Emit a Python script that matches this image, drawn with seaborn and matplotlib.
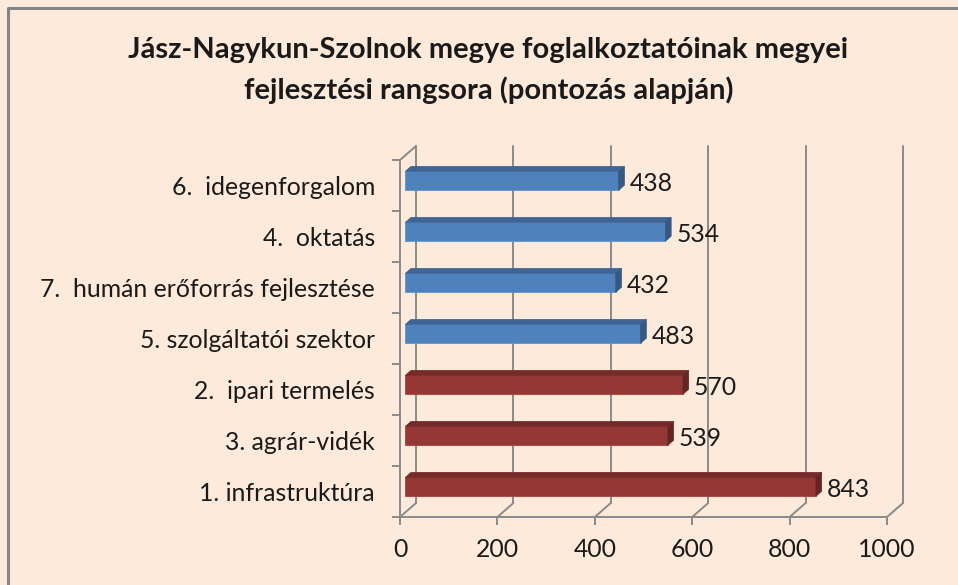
import matplotlib
matplotlib.use("Agg")
import matplotlib.pyplot as plt
import matplotlib.colors as mcolors
import seaborn as sns
import numpy as np
from matplotlib.patches import Polygon
from matplotlib.lines import Line2D

# Adatok (felülről lefelé)
kategoriak = ["6.  idegenforgalom", "4.  oktatás", "7.  humán erőforrás fejlesztése",
              "5. szolgáltatói szektor", "2.  ipari termelés", "3. agrár-vidék",
              "1. infrastruktúra"]
pontok = [438, 534, 432, 483, 570, 539, 843]
csoport = ["kek", "kek", "kek", "kek", "piros", "piros", "piros"]
x_tickek = [0, 200, 400, 600, 800, 1000]

szinek = {"kek": "#4F81BD", "piros": "#953735"}
HATTER = "#FDEADA"
RACS = "#8A8A8A"
BETU = 17.8

sns.set_theme(style="white")
plt.rcParams['font.family'] = ['Lato', 'DejaVu Sans']

W, H = 958, 585
fig = plt.figure(figsize=(W / 100, H / 100), dpi=100)
fig.patch.set_facecolor(HATTER)

# az elülső sík: x 400..887 px, y 160..517 px (felülről)
ax = fig.add_axes([400 / W, (H - 517) / H, 487 / W, 357 / H])
ax.set_facecolor("none")

sns.barplot(x=pontok, y=kategoriak, hue=csoport, palette=szinek, orient="h",
            width=0.37, dodge=False, saturation=1, legend=False, ax=ax)

ax.set_xlim(0, 1000)
ax.set_ylim(len(kategoriak) - 0.5, -0.5)

# mélység (px -> adategység)
px_x = 487 / 1000
px_y = 357 / len(kategoriak)
DX = 16 / px_x
DY = -14 / px_y
f = 1 / 3      # a hasáb elülső lapja
g = 0.36       # a hasáb mélysége

y0, y1 = ax.get_ylim()
# hátsó fal rácsvonalai + padló átlói
for v in x_tickek:
    ax.add_line(Line2D([v + DX, v + DX], [y0 + DY, y1 + DY], color=RACS, lw=1.4, clip_on=False))
    ax.add_line(Line2D([v, v + DX], [y0, y0 + DY], color=RACS, lw=1.4, clip_on=False))
# bal fal felső átló
ax.add_line(Line2D([0, DX], [y1, y1 + DY], color=RACS, lw=1.4, clip_on=False))

# 3D hasábok
for p in ax.patches:
    if p.get_width() == 0:
        continue
    p.set_x(p.get_x() + f * DX)
    p.set_y(p.get_y() + f * DY)
    p.set_clip_on(False)
    p.set_zorder(3)
    x0 = p.get_x()
    x1 = x0 + p.get_width()
    yt = p.get_y()
    yb = yt + p.get_height()
    c = np.array(mcolors.to_rgb(p.get_facecolor()))
    p.set_edgecolor(tuple(np.minimum(c * 1.15, 1)))
    p.set_linewidth(0.6)
    teto = Polygon([(x0, yt), (x1, yt), (x1 + g * DX, yt + g * DY), (x0 + g * DX, yt + g * DY)],
                   closed=True, facecolor=c * 0.78, edgecolor=c * 0.78, lw=0.5,
                   clip_on=False, zorder=3)
    oldal = Polygon([(x1, yt), (x1 + g * DX, yt + g * DY), (x1 + g * DX, yb + g * DY), (x1, yb)],
                    closed=True, facecolor=c * 0.68, edgecolor=c * 0.68, lw=0.5,
                    clip_on=False, zorder=3)
    ax.add_patch(teto)
    ax.add_patch(oldal)

# értékcímkék
for i, v in enumerate(pontok):
    ax.text(v + (f + g) * DX + 5 / px_x, i + 0.5 * f * DY, str(v),
            ha="left", va="center", fontsize=BETU, color="#1a1a1a", clip_on=False)

# tengelyek
for s in ["top", "right"]:
    ax.spines[s].set_visible(False)
for s in ["left", "bottom"]:
    ax.spines[s].set_color(RACS)
    ax.spines[s].set_linewidth(1.4)

ax.set_xticks(x_tickek)
ax.set_xticklabels([str(v) for v in x_tickek])
ax.tick_params(axis="x", bottom=True, length=6, width=1.4, color=RACS,
               labelsize=BETU, pad=9, labelcolor="#1a1a1a")
ax.set_yticks(range(len(kategoriak)))
ax.set_yticklabels(kategoriak)
ax.tick_params(axis="y", left=False, length=0, labelsize=BETU, pad=18, labelcolor="#1a1a1a")
ax.set_yticks(np.arange(len(kategoriak) + 1) - 0.5, minor=True)
ax.tick_params(axis="y", which="minor", left=True, length=6, width=1.4, color=RACS)
ax.set_xlabel("")
ax.set_ylabel("")
ax.grid(False)

# cím
fig.text(488 / W, 1 - 50 / H, "Jász-Nagykun-Szolnok megye foglalkoztatóinak megyei",
         ha="center", va="center", fontsize=21, fontweight="bold", color="#1a1a1a")
fig.text(489 / W, 1 - 90 / H, "fejlesztési rangsora (pontozás alapján)",
         ha="center", va="center", fontsize=21, fontweight="bold", color="#1a1a1a")

# keret (felső és bal él)
fig.add_artist(Line2D([7.5 / W, 7.5 / W, 1], [0, 1 - 7.5 / H, 1 - 7.5 / H],
                      transform=fig.transFigure, color="#858585", lw=2.2))

fig.savefig("out.png", dpi=100, facecolor=fig.get_facecolor())
